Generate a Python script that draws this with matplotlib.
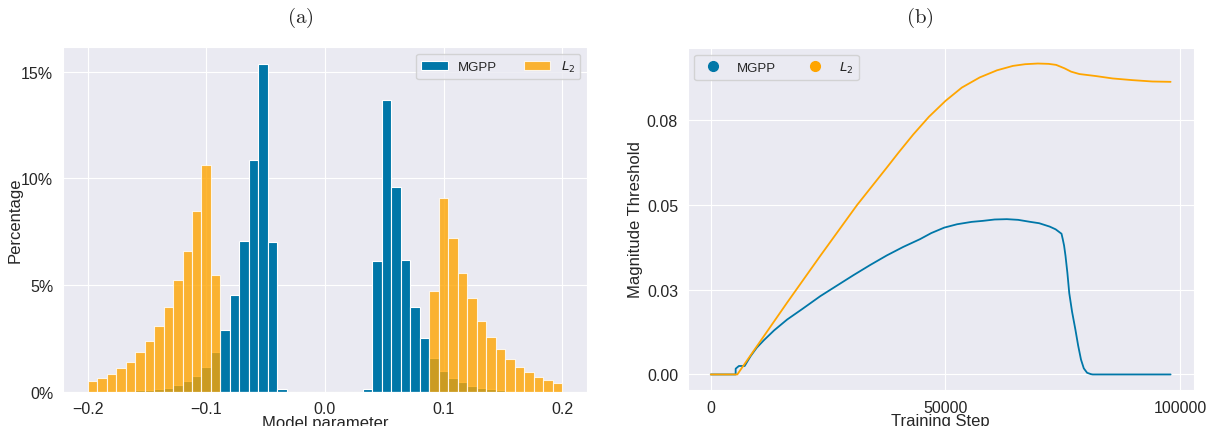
import numpy as np
import matplotlib
matplotlib.use("Agg")
import matplotlib.pyplot as plt
import seaborn as sns
from matplotlib.lines import Line2D
from matplotlib.ticker import PercentFormatter, MultipleLocator, FixedLocator, FixedFormatter

# ---- data ----
# histogram: 50 bins of width 0.008 between -0.2 and 0.2, heights in percent
bin_edges = np.linspace(-0.2, 0.2, 51)
l2_hist = [0.48, 0.64, 0.83, 1.09, 1.41, 1.87, 2.39, 3.09, 3.98, 5.23,
           6.61, 8.47, 10.63, 5.48] + [0.0] * 22 + \
          [4.73, 9.08, 7.20, 5.56, 4.39, 3.31, 2.56, 1.98, 1.53, 1.17,
           0.91, 0.69, 0.53, 0.41]
mgpp_hist = [0, 0, 0, 0, 0, 0.06, 0.09, 0.13, 0.19, 0.31,
             0.48, 0.75, 1.17, 1.84, 2.89, 4.55, 7.09, 10.86, 15.39, 7.00,
             0.13] + [0.0] * 8 + \
            [0.13, 6.14, 13.66, 9.59, 6.19, 3.95, 2.50, 1.58, 0.98, 0.63,
             0.44, 0.28, 0.19, 0.12, 0.08, 0.05, 0, 0, 0, 0, 0]

# magnitude threshold over training
mgpp_step = [0, 5300, 5310, 6000, 7220, 8490, 9800, 11320, 13500, 16280,
             19500, 23350, 27000, 30430, 34000, 37510, 41000, 44590, 47000, 49750,
             52500, 55600, 58000, 60500, 63100, 65500, 68100, 70000, 72250, 73500,
             74750, 75000, 75300, 75600, 76000, 76400, 77000, 77700, 78300, 78900,
             79500, 80200, 81000, 81400, 98000]
mgpp_thr = [0, 0, 0.0017, 0.0025, 0.0025, 0.0054, 0.0079, 0.0101, 0.0130, 0.0162,
            0.0193, 0.0231, 0.0263, 0.0293, 0.0323, 0.0351, 0.0376, 0.0399, 0.0417, 0.0433,
            0.0443, 0.0450, 0.0453, 0.0457, 0.0458, 0.0456, 0.0450, 0.0446, 0.0436, 0.0428,
            0.0415, 0.0400, 0.0380, 0.0350, 0.0300, 0.0240, 0.0185, 0.0133, 0.0085, 0.0044,
            0.0018, 0.0005, 0.0001, 0.0, 0.0]
l2_step = [0, 5660, 16280, 23350, 31140, 37510, 40000, 43170, 46500, 50040,
           53500, 57320, 61000, 64400, 67000, 69700, 72000, 73600, 75370, 76800,
           78560, 82100, 85630, 89880, 94100, 98000]
l2_thr = [0, 0, 0.0212, 0.0350, 0.0499, 0.0610, 0.0654, 0.0708, 0.0760, 0.0807,
          0.0846, 0.0876, 0.0897, 0.0910, 0.0915, 0.0917, 0.0916, 0.0913, 0.0903, 0.0893,
          0.0886, 0.0880, 0.0873, 0.0868, 0.0864, 0.0863]

ytick_vals = [0, 0.025, 0.05, 0.075]
ytick_labels = ["0.00", "0.03", "0.05", "0.08"]

blue = "#0077a8"
orange = "orange"

sns.set_style("darkgrid")
plt.rcParams["font.family"] = ["Liberation Sans", "DejaVu Sans"]

fig = plt.figure(figsize=(12.13, 4.27), dpi=100)
ax1 = fig.add_axes([0.0519, 0.0803, 0.432, 0.807])
ax2 = fig.add_axes([0.567, 0.0843, 0.417, 0.801])

# (a) histogram
centers = (bin_edges[:-1] + bin_edges[1:]) / 2
ax1.hist(centers, bins=bin_edges, weights=mgpp_hist, color=blue,
         edgecolor="white", linewidth=0.8, label="MGPP")
ax1.hist(centers, bins=bin_edges, weights=l2_hist, color=orange, alpha=0.8,
         edgecolor="white", linewidth=0.8, label="$L_2$")
ax1.set_xlim(-0.2207, 0.2207)
ax1.xaxis.set_major_locator(MultipleLocator(0.1))
ax1.yaxis.set_major_locator(MultipleLocator(5))
ax1.yaxis.set_major_formatter(PercentFormatter(xmax=100, decimals=0))
ax1.set_xlabel("Model parameter", fontsize=12, labelpad=-1)
ax1.set_ylabel("Percentage", fontsize=12, labelpad=-1)
ax1.tick_params(labelsize=11.5)
ax1.legend(loc="upper right", ncol=2, fontsize=9.5)

# (b) threshold curves
ax2.plot(mgpp_step, mgpp_thr, color=blue, lw=1.3)
ax2.plot(l2_step, l2_thr, color=orange, lw=1.3)
ax2.yaxis.set_major_locator(FixedLocator(ytick_vals))
ax2.yaxis.set_major_formatter(FixedFormatter(ytick_labels))
ax2.set_xticks([0, 50000, 100000])
ax2.set_xlabel("Training Step", fontsize=12, labelpad=-1)
ax2.set_ylabel("Magnitude Threshold", fontsize=12, labelpad=3)
ax2.tick_params(labelsize=11.5)
handles = [Line2D([], [], marker="o", ls="none", color=blue, markersize=7),
           Line2D([], [], marker="o", ls="none", color=orange, markersize=7)]
ax2.legend(handles, ["MGPP", "$L_2$"], loc="upper left", ncol=2, fontsize=9.5)

fig.text(300 / 1213, 1 - 18 / 427, r"$\mathrm{(a)}$", ha="center", va="center",
         fontsize=15, math_fontfamily="cm")
fig.text(920 / 1213, 1 - 18 / 427, r"$\mathrm{(b)}$", ha="center", va="center",
         fontsize=15, math_fontfamily="cm")

fig.savefig("out.png", dpi=100)
